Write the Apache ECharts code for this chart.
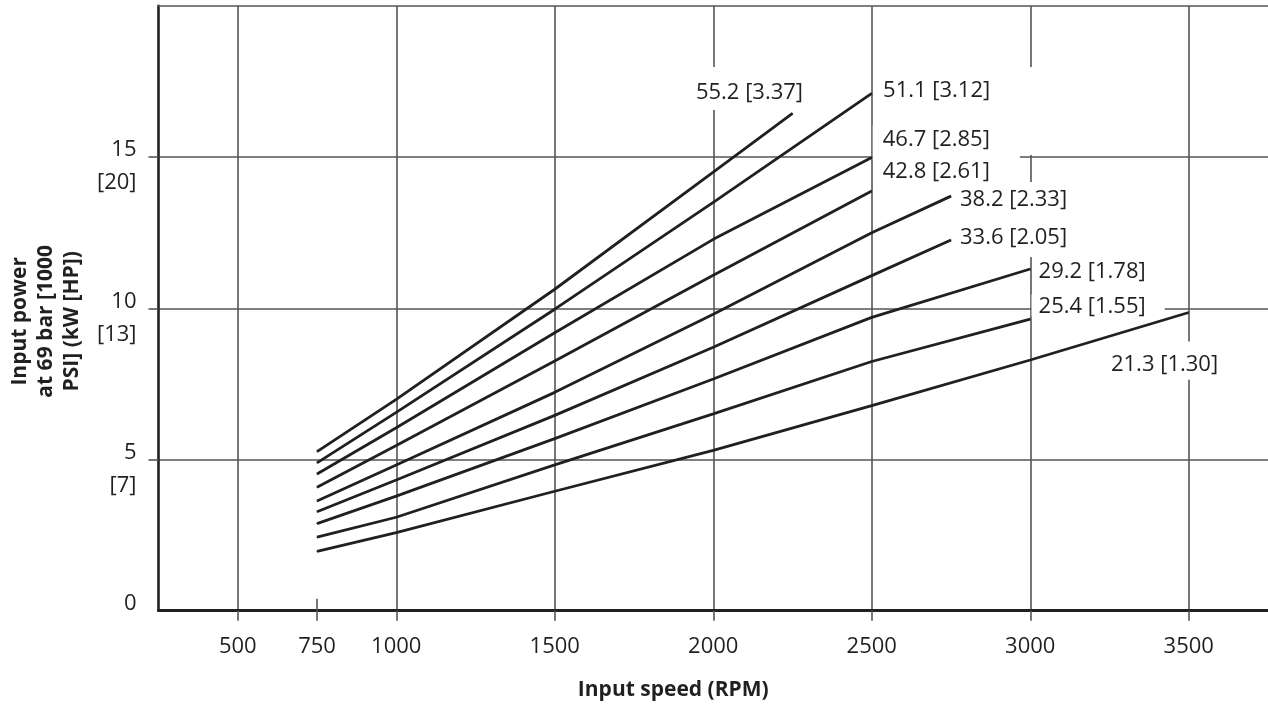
<!DOCTYPE html>
<html>
<head>
<meta charset="utf-8">
<script src="https://cdn.jsdelivr.net/npm/echarts@6/dist/echarts.min.js"></script>
<style>
  html, body { margin: 0; padding: 0; background: #fff; }
  #chart { width: 1268px; height: 704px; }
</style>
</head>
<body>
<div id="chart"></div>
<script>
// Input speed (RPM) at which the curves are sampled
const speeds = [750, 1000, 1500, 2000, 2250, 2500, 2750, 3000, 3500];

// Input power (kW) at 69 bar for each displacement; null where a curve has no point
const power552 = [5.26, 6.99, 10.63, 14.50, 16.45, null, null, null, null];
const power511 = [4.89, 6.56, 9.97, 13.50, null, 17.11, null, null, null];
const power467 = [4.52, 6.05, 9.19, 12.28, null, 14.99, null, null, null];
const power428 = [4.08, 5.46, 8.26, 11.09, null, 13.88, null, null, null];
const power382 = [3.63, 4.82, 7.22, 9.80, null, 12.50, 13.71, null, null];
const power336 = [3.27, 4.32, 6.46, 8.71, null, 11.08, 12.26, null, null];
const power292 = [2.88, 3.79, 5.69, 7.66, null, 9.70, null, 11.30, null];
const power254 = [2.43, 3.09, 4.82, 6.51, null, 8.24, null, 9.64, null];
const power213 = [1.96, 2.58, 3.95, 5.30, null, 6.78, null, 8.29, 9.86];

// Displacement of each curve, cm³/rev [in³/rev]
const curveNames = ['55.2 [3.37]', '51.1 [3.12]', '46.7 [2.85]', '42.8 [2.61]', '38.2 [2.33]',
                    '33.6 [2.05]', '29.2 [1.78]', '25.4 [1.55]', '21.3 [1.30]'];
const curvePower = [power552, power511, power467, power428, power382,
                    power336, power292, power254, power213];

// Axis ticks
const xLabelValues = [500, 750, 1000, 1500, 2000, 2500, 3000, 3500];
const xGridValues = [500, 1000, 1500, 2000, 2500, 3000, 3500];
const xMarkValues = [750];
const yLabelValues = [0, 5, 10, 15];
const yLabelKw = ['0', '5', '10', '15'];
const yLabelHp = ['', '[7]', '[13]', '[20]'];
const yGridValues = [5, 10, 15];

const FONT = '"Open Sans", "Noto Sans", sans-serif';
const INK = '#231f20';
const GRID = '#555555';

// Where each curve's tag sits relative to the curve end (box top-left), and its white knock-out box
const labelPlacement = [
  { offset: [-100.6, -46.3], padding: [16.2, 4, 6.8, 4] },
  { offset: [1.3, -26.3], padding: [13.8, 45, 54.2, 10] },
  { offset: [1, -32.3], padding: [4.8, 30, 10.2, 10] },
  { offset: [9, -31.5], padding: [2, 2, 2, 2] },
  { offset: [5, -14], padding: [7.8, 4, 3.5, 4] },
  { offset: [5, -27], padding: [14.5, 4, 9.5, 4] },
  { offset: [6.3, -9.5], padding: [2, 2, 2, 2] },
  { offset: [1.3, -24.8], padding: [2, 19, 0, 7] },
  { offset: [-81.8, 29], padding: [13.1, 4, 5.2, 4] }
];

const series = curveNames.map((name, i) => {
  const pts = [];
  speeds.forEach((s, k) => {
    const v = curvePower[i][k];
    if (v !== null) pts.push([s, v]);
  });
  const last = pts.length - 1;
  const place = labelPlacement[i];
  return {
    type: 'line',
    name: name,
    xAxisIndex: 0,
    yAxisIndex: 0,
    silent: true,
    symbol: 'circle',
    symbolSize: 1,
    showSymbol: true,
    lineStyle: { color: INK, width: 2.8 },
    itemStyle: { color: INK },
    label: { show: false },
    z: 3,
    data: pts.map((p, k) => k !== last ? p : {
      value: p,
      label: {
        show: true,
        formatter: name,
        position: 'inside',
        align: 'left',
        verticalAlign: 'top',
        offset: place.offset,
        padding: place.padding,
        backgroundColor: '#fff',
        color: INK,
        textBorderWidth: 0,
        fontFamily: FONT,
        fontSize: 22,
        lineHeight: 20
      }
    })
  };
});

// Plain helper axis sharing the speed scale, used for extra tick marks and the top border
function speedAxis(extra) {
  return Object.assign({
    type: 'value', min: 250, max: 3750, interval: 250,
    axisLine: { show: false },
    axisTick: { show: false },
    axisLabel: { show: false },
    splitLine: { show: false }
  }, extra);
}

const chart = echarts.init(document.getElementById('chart'), null, { renderer: 'canvas' });
chart.setOption({
  animation: false,
  backgroundColor: '#fff',
  grid: { left: 158.5, top: 5.9, right: 0, bottom: 93.3, containLabel: false, outerBoundsMode: 'none' },
  xAxis: [
    {
      type: 'value', min: 250, max: 3750, interval: 250,
      name: 'Input speed (RPM)', nameLocation: 'middle', nameGap: 69,
      nameTextStyle: { fontFamily: FONT, fontSize: 21, fontWeight: 'bold', color: INK, padding: [0, 80, 0, 0] },
      axisLine: { show: true, onZero: false, lineStyle: { color: INK, width: 3 } },
      axisTick: { show: true, length: 10, customValues: xGridValues, lineStyle: { color: GRID, width: 1.6 } },
      axisLabel: {
        customValues: xLabelValues, margin: 25, fontFamily: FONT, fontSize: 22, color: INK,
        formatter: (v) => String(v)
      },
      splitLine: { show: true, lineStyle: { color: GRID, width: 1.6 } }
    },
    speedAxis({
      position: 'bottom',
      axisTick: { show: true, inside: true, length: 12, customValues: xMarkValues, lineStyle: { color: GRID, width: 1.6 } }
    }),
    speedAxis({
      position: 'bottom',
      axisTick: { show: true, inside: false, length: 10, customValues: xMarkValues, lineStyle: { color: GRID, width: 1.6 } }
    }),
    speedAxis({
      position: 'top',
      axisLine: { show: true, onZero: false, lineStyle: { color: GRID, width: 1.6 } }
    })
  ],
  yAxis: [
    {
      type: 'value', min: 0, max: 20, interval: 5,
      name: 'Input power\nat 69 bar [1000\nPSI] (kW [HP])',
      nameLocation: 'middle', nameRotate: 90, nameGap: 73.5,
      nameTextStyle: { fontFamily: FONT, fontSize: 21, fontWeight: 'bold', color: INK, lineHeight: 26, padding: [0, 26, 0, 0] },
      axisLine: { show: true, onZero: false, lineStyle: { color: INK, width: 2.6 } },
      axisTick: { show: true, length: 10, customValues: yGridValues, lineStyle: { color: GRID, width: 1.6 } },
      axisLabel: {
        customValues: yLabelValues,
        margin: 22,
        align: 'right',
        verticalAlign: 'middle',
        formatter: (v) => {
          const i = yLabelValues.indexOf(v);
          return '{a|' + yLabelKw[i] + '}\n{b|' + (yLabelHp[i] || ' ') + '}';
        },
        rich: {
          a: { fontFamily: FONT, fontSize: 22, lineHeight: 52, color: INK, align: 'right' },
          b: { fontFamily: FONT, fontSize: 22, lineHeight: 14, color: INK, align: 'right' }
        }
      },
      splitLine: { show: true, lineStyle: { color: GRID, width: 1.6 } }
    }
  ],
  series: series
});
</script>
</body>
</html>
